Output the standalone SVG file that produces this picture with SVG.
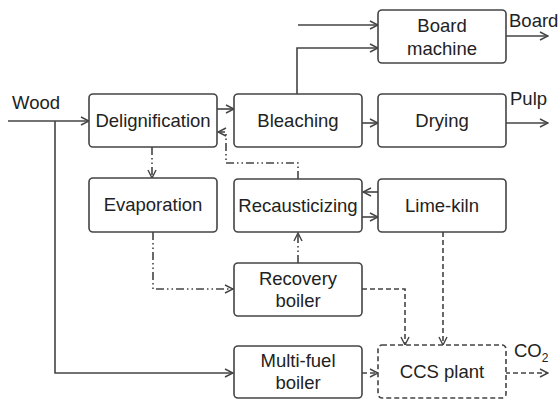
<svg xmlns="http://www.w3.org/2000/svg" width="560" height="400" viewBox="0 0 560 400">
<defs>
<marker id="ah" viewBox="0 0 10 10" refX="9" refY="5" markerWidth="10" markerHeight="10" markerUnits="userSpaceOnUse" orient="auto">
<path d="M1,1 L9,5 L1,9" fill="none" stroke="#444" stroke-width="1.4"/>
</marker>
</defs>
<style>
.box{fill:#fff;stroke:#444;stroke-width:1.6}
.ccs{fill:#fff;stroke:#444;stroke-width:1.6;stroke-dasharray:5 3}
text{font-family:"Liberation Sans",Arial,sans-serif;font-size:18.5px;fill:#222;text-anchor:middle}
.lbl{text-anchor:start}
.c{fill:none;stroke:#444;stroke-width:1.6}
.a{marker-end:url(#ah)}
.dd{stroke-dasharray:8 3 1.5 3 1.5 3}
.ds{stroke-dasharray:5 3}
</style>
<rect width="560" height="400" fill="#fff"/>
<g id="connectors">
<path class="c a" d="M298,25 H378"/>
<path class="c a" d="M297,94 V48 H378"/>
<path class="c a" d="M506,36 H548"/>
<path class="c a" d="M8,121 H89"/>
<path class="c a" d="M55,121 V373 H233"/>
<path class="c a" d="M217,109 H234"/>
<path class="c a" d="M362,123 H378"/>
<path class="c a" d="M506,123 H548"/>
<path class="c a dd" d="M298,179 V163 H226 V132 H218"/>
<path class="c a dd" d="M152,147 V178"/>
<path class="c a dd" d="M153,232 V289 H233"/>
<path class="c a dd" d="M298,263 V233"/>
<path class="c a" d="M378,192 H363"/>
<path class="c a" d="M362,217 H378"/>
<path class="c a ds" d="M362,289 H405 V345"/>
<path class="c a ds" d="M443,232 V345"/>
<path class="c a ds" d="M362,373 H378"/>
<path class="c a ds" d="M497,373 H548"/>
</g>
<g id="board"><rect class="box" x="378" y="10" width="128" height="53" rx="4"/><text x="442" y="32">Board</text><text x="442" y="55">machine</text></g>
<g id="delignification"><rect class="box" x="89" y="94" width="128" height="53" rx="4"/><text x="153" y="127">Delignification</text></g>
<g id="bleaching"><rect class="box" x="234" y="94" width="128" height="53" rx="4"/><text x="298" y="127">Bleaching</text></g>
<g id="drying"><rect class="box" x="378" y="94" width="128" height="53" rx="4"/><text x="442" y="127">Drying</text></g>
<g id="evaporation"><rect class="box" x="89" y="178" width="128" height="54" rx="4"/><text x="153" y="211">Evaporation</text></g>
<g id="recausticizing"><rect class="box" x="234" y="179" width="128" height="53" rx="4"/><text x="298" y="212">Recausticizing</text></g>
<g id="limekiln"><rect class="box" x="378" y="179" width="128" height="53" rx="4"/><text x="442" y="212">Lime-kiln</text></g>
<g id="recovery"><rect class="box" x="234" y="263" width="128" height="53" rx="4"/><text x="298" y="285">Recovery</text><text x="298" y="307">boiler</text></g>
<g id="multifuel"><rect class="box" x="234" y="346" width="128" height="52" rx="4"/><text x="298" y="367">Multi-fuel</text><text x="298" y="389">boiler</text></g>
<g id="ccs"><rect class="ccs" x="378" y="345" width="128" height="53" rx="4"/><text x="442" y="378">CCS plant</text></g>
<g id="labels">
<text class="lbl" x="12" y="109">Wood</text>
<text class="lbl" x="509" y="27">Board</text>
<text class="lbl" x="510" y="105">Pulp</text>
<text class="lbl" x="514" y="357">CO<tspan font-size="12" dy="5">2</tspan></text>
</g>
</svg>
